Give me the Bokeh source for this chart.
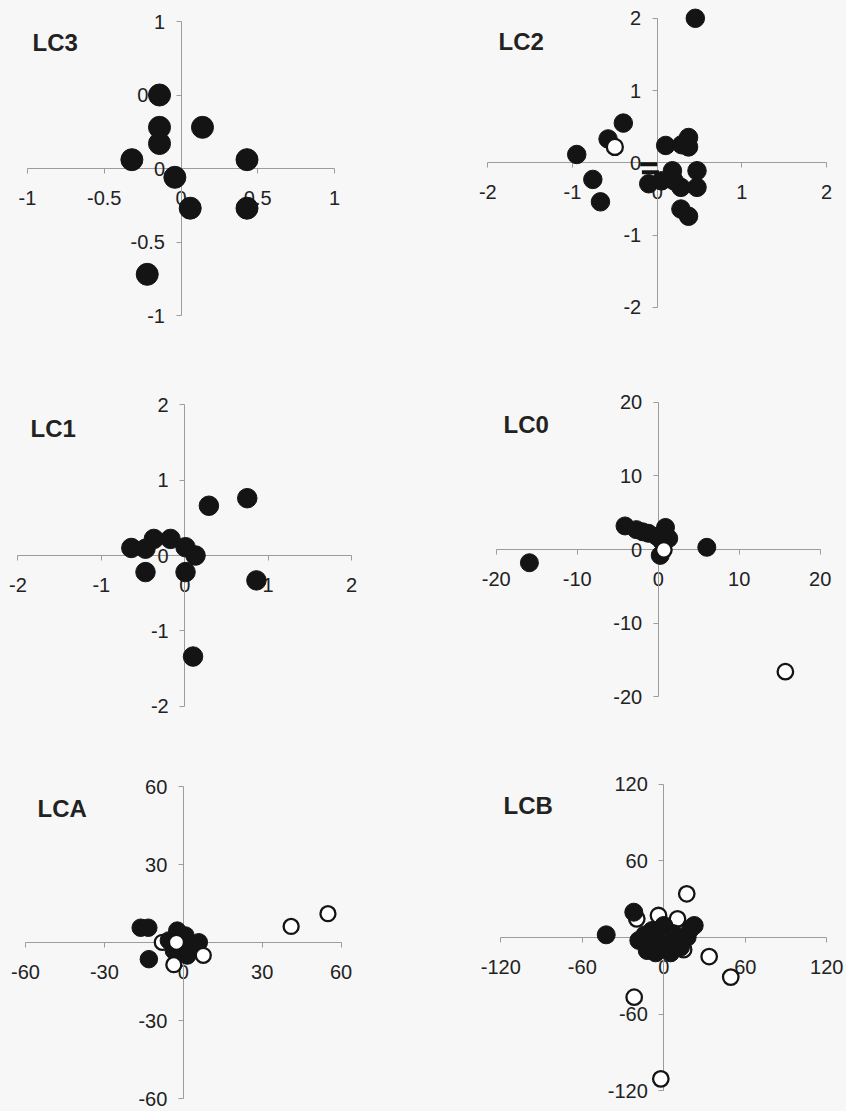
from bokeh.plotting import figure
from bokeh.layouts import gridplot
from bokeh.models import LinearAxis, FixedTicker, Range1d, ColumnDataSource
from bokeh.core.properties import value
from bokeh.embed import file_html
from bokeh.resources import INLINE

# ---------------- data ----------------
# kind: "f" = filled circle, "o" = open circle, "d" = dash ; array order = drawing order
lc3_x = [-0.14, -0.14, -0.14, 0.14, -0.32, 0.43, -0.04, 0.06, 0.43, -0.22]
lc3_y = [0.50, 0.28, 0.17, 0.28, 0.06, 0.06, -0.06, -0.27, -0.27, -0.72]
lc3_kind = ["f"] * 10
lc3_ticks = [-1, -0.5, 0, 0.5, 1]
lc3_labels = ["-1", "-0.5", "0", "0.5", "1"]

lc2_x = [0.45, -0.40, -0.58, -0.95, -0.76, -0.67, 0.10, 0.29, 0.37, 0.37,
         0.18, 0.47, 0.47, 0.28, -0.10, 0.05, 0.20, 0.28, 0.37,
         -0.50, -0.10, -0.08]
lc2_y = [2.00, 0.55, 0.33, 0.115, -0.23, -0.54, 0.24, 0.25, 0.35, 0.22,
         -0.11, -0.11, -0.34, -0.34, -0.29, -0.25, -0.25, -0.64, -0.74,
         0.22, -0.02, -0.13]
lc2_kind = ["f"] * 19 + ["o", "d", "d"]
lc2_ticks = [-2, -1, 0, 1, 2]
lc2_labels = ["-2", "-1", "0", "1", "2"]

lc1_x = [0.29, 0.75, -0.64, -0.47, -0.37, -0.17, 0.01, 0.13, -0.47, 0.01, 0.86, 0.10]
lc1_y = [0.66, 0.76, 0.10, 0.09, 0.22, 0.22, 0.11, 0.00, -0.22, -0.22, -0.33, -1.34]
lc1_kind = ["f"] * 12
lc1_ticks = [-2, -1, 0, 1, 2]
lc1_labels = ["-2", "-1", "0", "1", "2"]

lc0_x = [-15.9, -4.1, -2.7, -1.9, -1.2, -0.2, 0.4, 0.9, 1.3, 0.25, 6.0, 0.7, 15.7]
lc0_y = [-1.8, 3.2, 2.7, 2.4, 2.2, 1.8, 1.2, 3.0, 1.5, -0.8, 0.3, -0.05, -16.6]
lc0_kind = ["f"] * 11 + ["o", "o"]
lc0_ticks = [-20, -10, 0, 10, 20]
lc0_labels = ["-20", "-10", "0", "10", "20"]

lca_x = [-8.0, -16.2, -13.3, -13.1, -2.3, -5.5, 0.8, 5.9, 1.5, -3.6, 2.5,
         -2.6, -3.6, 7.6, 41.0, 55.0]
lca_y = [0.2, 5.8, 5.8, -6.3, 4.7, 0.9, 2.8, 0.2, -4.9, -3.0, -1.0,
         0.2, -8.4, -4.8, 6.3, 11.2]
lca_kind = ["o"] + ["f"] * 10 + ["o"] * 5
lca_ticks = [-60, -30, 0, 30, 60]
lca_labels = ["-60", "-30", "0", "30", "60"]

lcb_x = [-19.9, -3.9, 10.1, 14.6,
         -42.4, -22.1, -18.4, -12.2, -8.6, 0.0, 7.4, 17.2, 22.4, 12.3, 0.0, -5.0,
         19.7, -14.0, 5.0, -6.0,
         16.9, 33.4, 49.3, -21.8, -2.2]
lcb_y = [14.6, 17.2, 14.6, -9.5,
         2.1, 19.8, -2.3, -10.2, 5.5, 9.4, 2.9, 0.2, 9.4, -7.6, -7.6, -2.0,
         6.8, 2.0, -12.0, -12.0,
         34.2, -14.9, -31.0, -46.7, -110.6]
lcb_kind = ["o"] * 4 + ["f"] * 16 + ["o"] * 5
lcb_ticks = [-120, -60, 0, 60, 120]
lcb_labels = ["-120", "-60", "0", "60", "120"]

# ---------------- layout / style ----------------
BG = "#f7f7f7"
AX = "#9c9c9c"
TXT = "#222222"
INK = "#141414"
FONT = "Liberation Sans"

# cell (x, y, w, h) in page px, origin in page px, px per unit, title pos, marker size
panels = [
    dict(name="LC3", x=lc3_x, y=lc3_y, kind=lc3_kind, ticks=lc3_ticks, labels=lc3_labels,
         cell=(0, 0, 423, 365), origin=(180.5, 168.0), unit=(153.5, 147.0), tpos=(32, 42), size=22),
    dict(name="LC2", x=lc2_x, y=lc2_y, kind=lc2_kind, ticks=lc2_ticks, labels=lc2_labels,
         cell=(423, 0, 423, 365), origin=(656.7, 162.3), unit=(84.7, 72.25), tpos=(498, 41), size=18.5),
    dict(name="LC1", x=lc1_x, y=lc1_y, kind=lc1_kind, ticks=lc1_ticks, labels=lc1_labels,
         cell=(0, 365, 423, 365), origin=(184.2, 555.0), unit=(83.4, 75.4), tpos=(30, 428), size=19.5),
    dict(name="LC0", x=lc0_x, y=lc0_y, kind=lc0_kind, ticks=lc0_ticks, labels=lc0_labels,
         cell=(423, 365, 423, 365), origin=(657.7, 549.0), unit=(8.1, 7.36), tpos=(503, 424), size=18),
    dict(name="LCA", x=lca_x, y=lca_y, kind=lca_kind, ticks=lca_ticks, labels=lca_labels,
         cell=(0, 730, 423, 381), origin=(182.8, 942.3), unit=(2.63, 2.6), tpos=(37, 808), size=17.5),
    dict(name="LCB", x=lcb_x, y=lcb_y, kind=lcb_kind, ticks=lcb_ticks, labels=lcb_labels,
         cell=(423, 730, 423, 381), origin=(663.3, 937.0), unit=(1.358, 1.278), tpos=(503, 805), size=18),
]


def make_panel(d):
    cx, cy, W, H = d["cell"]
    ox, oy = d["origin"][0] - cx, d["origin"][1] - cy
    ux, uy = d["unit"]
    p = figure(width=W, height=H,
               x_range=Range1d(-ox / ux, (W - ox) / ux),
               y_range=Range1d((oy - H) / uy, oy / uy),
               x_axis_location=None, y_axis_location=None,
               toolbar_location=None, output_backend="svg",
               min_border=0, background_fill_color=BG, border_fill_color=BG,
               outline_line_color=None)
    p.title.visible = False
    p.grid.visible = False
    p.styles = {"background-color": BG}

    lim = max(d["ticks"])
    overrides = {float(t): l for t, l in zip(d["ticks"], d["labels"])}
    common = dict(fixed_location=0, bounds=(-lim, lim), ticker=FixedTicker(ticks=d["ticks"]),
                  major_label_overrides=overrides, level="underlay",
                  axis_line_color=AX, axis_line_width=1,
                  major_tick_line_color=AX, major_tick_in=0, major_tick_out=5,
                  minor_tick_line_color=None,
                  major_label_text_font=FONT, major_label_text_font_size="20px",
                  major_label_text_color=TXT)
    p.add_layout(LinearAxis(major_label_standoff=17, **common), "below")
    p.add_layout(LinearAxis(major_label_standoff=11, **common), "left")

    s = d["size"]
    markers, fills, sizes, lws = [], [], [], []
    for k in d["kind"]:
        if k == "f":
            markers.append("circle"); fills.append(INK); sizes.append(s); lws.append(1.0)
        elif k == "o":
            markers.append("circle"); fills.append("#ffffff"); sizes.append(s - 2.5); lws.append(2.3)
        else:
            markers.append("dash"); fills.append(INK); sizes.append(17); lws.append(4.0)
    src = ColumnDataSource(dict(x=d["x"], y=d["y"], marker=markers, fill=fills, size=sizes, lw=lws))
    p.scatter("x", "y", source=src, marker="marker", size="size", fill_color="fill",
              line_color=INK, line_width="lw")

    tx, ty = d["tpos"]
    p.text(x=[(tx - d["origin"][0]) / ux], y=[(d["origin"][1] - ty) / uy], text=[d["name"]],
           text_font=value(FONT), text_font_style="bold", text_font_size="24px",
           text_color=TXT, text_align="left", text_baseline="middle")
    return p


figs = [make_panel(d) for d in panels]
grid = gridplot([[figs[0], figs[1]], [figs[2], figs[3]], [figs[4], figs[5]]],
                toolbar_location=None)
grid.styles = {"background-color": BG}

open("out.html", "w").write(file_html(grid, INLINE))
